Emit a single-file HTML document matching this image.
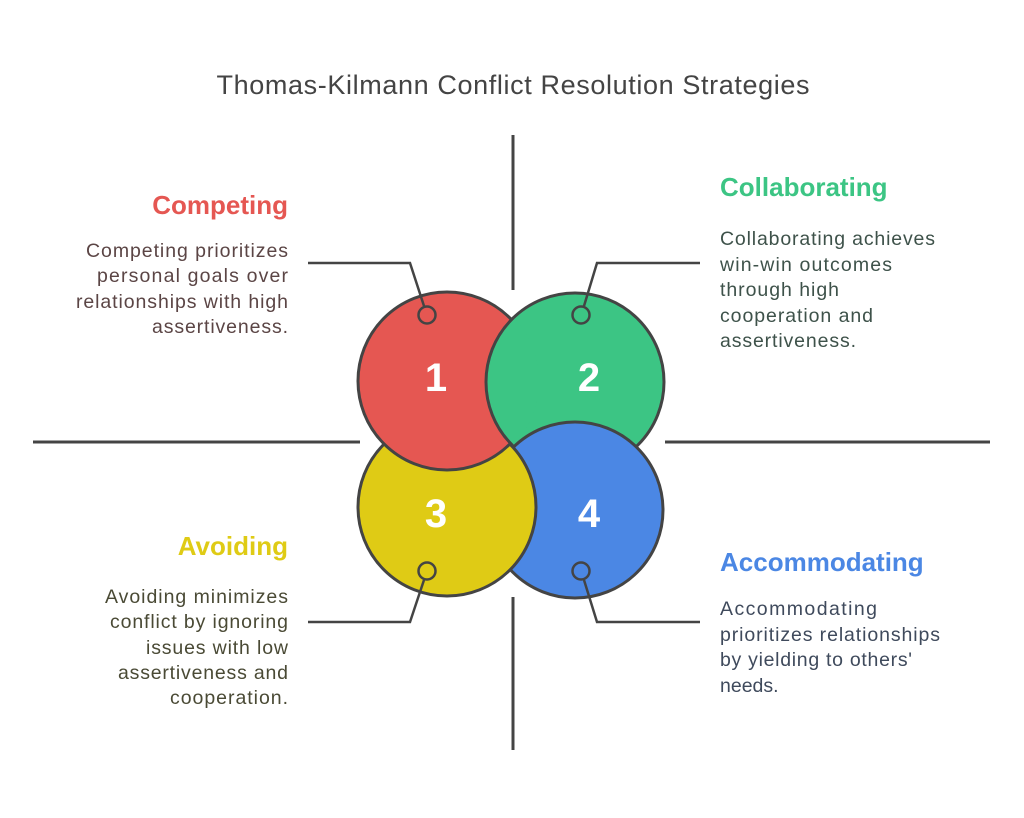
<!DOCTYPE html>
<html><head><meta charset="utf-8"><style>
html,body{margin:0;padding:0;background:#fff;}
svg{display:block;font-family:"Liberation Sans",Arial,sans-serif;}
</style></head><body>
<svg width="1024" height="818" viewBox="0 0 1024 818" xmlns="http://www.w3.org/2000/svg">
<defs>
<clipPath id="cg"><circle cx="447" cy="381" r="92"/></clipPath>
</defs>
<text x="513" y="94" text-anchor="middle" font-size="27" fill="#444" textLength="593" lengthAdjust="spacing">Thomas-Kilmann Conflict Resolution Strategies</text>
<g stroke="#444" stroke-width="3" fill="none">
<line x1="513" y1="135" x2="513" y2="290"/>
<line x1="513" y1="597" x2="513" y2="750"/>
<line x1="33" y1="442" x2="360" y2="442"/>
<line x1="665" y1="442" x2="990" y2="442"/>
</g>
<g stroke="#444" stroke-width="3">
<circle cx="575" cy="382" r="89" fill="#3cc584"/>
<circle cx="575" cy="510" r="88" fill="#4b87e4"/>
<circle cx="447" cy="507" r="89" fill="#dfcb15"/>
<circle cx="447" cy="381" r="89" fill="#e55752"/>
<circle cx="575" cy="382" r="89" fill="#3cc584" clip-path="url(#cg)"/>
</g>
<g fill="#fff" font-weight="bold" font-size="40" text-anchor="middle">
<text x="436" y="391">1</text>
<text x="589" y="391">2</text>
<text x="436" y="527">3</text>
<text x="589" y="527">4</text>
</g>
<g stroke="#444" stroke-width="2.5" fill="none">
<polyline points="308,263 410,263 424,306"/>
<polyline points="700,263 597,263 584,306"/>
<polyline points="308,622 410,622 424,580"/>
<polyline points="700,622 597,622 584,580"/>
<circle cx="427" cy="315" r="8.5"/>
<circle cx="581" cy="315" r="8.5"/>
<circle cx="427" cy="571" r="8.5"/>
<circle cx="581" cy="571" r="8.5"/>
</g>
<g font-weight="bold" font-size="26">
<text x="288" y="214" text-anchor="end" fill="#e55752">Competing</text>
<text x="720" y="196" fill="#3cc584">Collaborating</text>
<text x="288" y="555" text-anchor="end" fill="#dfcb15">Avoiding</text>
<text x="720" y="571" fill="#4b87e4">Accommodating</text>
</g>
<g font-size="19.5">
<g fill="#5b4545">
<text x="86" y="257" textLength="202" lengthAdjust="spacing">Competing prioritizes</text>
<text x="97" y="282" textLength="191" lengthAdjust="spacing">personal goals over</text>
<text x="76" y="308" textLength="212" lengthAdjust="spacing">relationships with high</text>
<text x="152" y="333" textLength="136" lengthAdjust="spacing">assertiveness.</text>
</g>
<g fill="#3e524a">
<text x="720" y="245" textLength="215" lengthAdjust="spacing">Collaborating achieves</text>
<text x="720" y="271" textLength="172" lengthAdjust="spacing">win-win outcomes</text>
<text x="720" y="296" textLength="119" lengthAdjust="spacing">through high</text>
<text x="720" y="322" textLength="153" lengthAdjust="spacing">cooperation and</text>
<text x="720" y="347" textLength="136" lengthAdjust="spacing">assertiveness.</text>
</g>
<g fill="#4a4a35">
<text x="105" y="603" textLength="183" lengthAdjust="spacing">Avoiding minimizes</text>
<text x="110" y="628" textLength="178" lengthAdjust="spacing">conflict by ignoring</text>
<text x="146" y="654" textLength="142" lengthAdjust="spacing">issues with low</text>
<text x="118" y="679" textLength="170" lengthAdjust="spacing">assertiveness and</text>
<text x="170" y="704" textLength="118" lengthAdjust="spacing">cooperation.</text>
</g>
<g fill="#3f4a5c">
<text x="720" y="615" textLength="157" lengthAdjust="spacing">Accommodating</text>
<text x="720" y="641" textLength="220" lengthAdjust="spacing">prioritizes relationships</text>
<text x="720" y="666" textLength="192" lengthAdjust="spacing">by yielding to others'</text>
<text x="720" y="692">needs.</text>
</g>
</g>
</svg>
</body></html>
